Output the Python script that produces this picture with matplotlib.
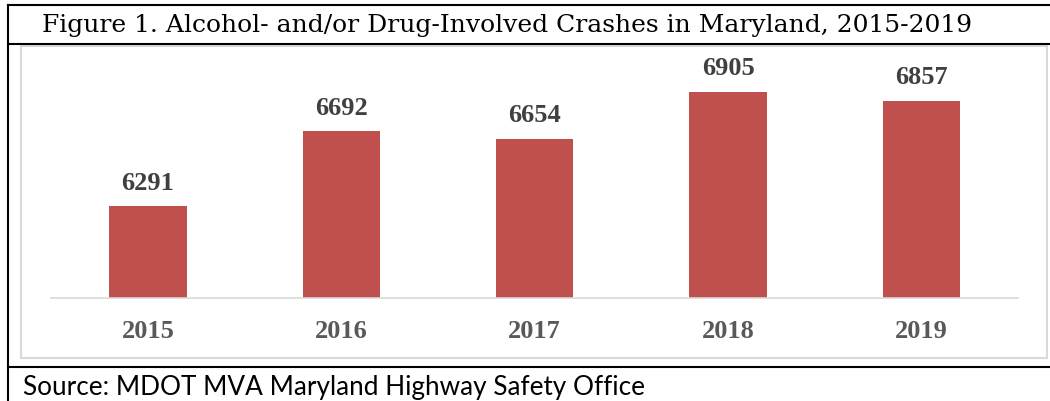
import matplotlib
matplotlib.use("Agg")
import matplotlib.pyplot as plt
from matplotlib.lines import Line2D
from matplotlib.patches import Rectangle

# chart values
years = ['2015', '2016', '2017', '2018', '2019']
crashes = [6291, 6692, 6654, 6905, 6857]

title = 'Figure 1. Alcohol- and/or Drug-Involved Crashes in Maryland, 2015-2019'
source = 'Source: MDOT MVA Maryland Highway Safety Office'

W, H = 1050, 402
fig = plt.figure(figsize=(W / 100, H / 100), dpi=100)


def fx(px):
    return px / W


def fy(py):
    return (H - py) / H


# table-like black borders
for (x0, y0, x1, y1) in [(8, 6, 1050, 6), (8, 6, 8, 402), (8, 45, 1050, 45), (8, 368, 1050, 368)]:
    fig.add_artist(Line2D([fx(x0), fx(x1)], [fy(y0), fy(y1)], color='black', lw=1.5,
                          transform=fig.transFigure))

# light gray chart frame
fig.add_artist(Rectangle((fx(21), fy(359)), fx(1047) - fx(21), fy(47) - fy(359),
                         fill=False, edgecolor='#d9d9d9', lw=1.5, transform=fig.transFigure))

fig.text(fx(507), fy(25.5), title, ha='center', va='center',
         fontsize=18, family='DejaVu Serif', color='black')
fig.text(fx(23), fy(395), source, ha='left', va='baseline',
         fontsize=18.8, family='Lato', color='black')

ax = fig.add_axes([fx(51.4), fy(299), fx(1018) - fx(51.4), (299 - 75) / H])
x = range(len(years))
bars = ax.bar(x, crashes, width=0.4, color='#c0504d')
ax.set_xlim(-0.5, len(years) - 0.5)
ax.set_ylim(5800, 7000)

for b, v in zip(bars, crashes):
    ax.annotate(str(v), (b.get_x() + b.get_width() / 2, v), xytext=(0, 17.5),
                textcoords='offset points', ha='center', va='center',
                fontsize=19, fontweight='bold', family='Liberation Serif', color='#404040')

ax.set_xticks(list(x))
ax.set_xticklabels(years, fontsize=19, fontweight='bold', family='Liberation Serif', color='#595959')
ax.tick_params(axis='x', length=0, pad=15)
ax.set_yticks([])
for s in ['top', 'right', 'left']:
    ax.spines[s].set_visible(False)
ax.spines['bottom'].set_color('#d9d9d9')
ax.spines['bottom'].set_linewidth(1.2)
ax.patch.set_alpha(0)

fig.savefig('out.png', dpi=100)
